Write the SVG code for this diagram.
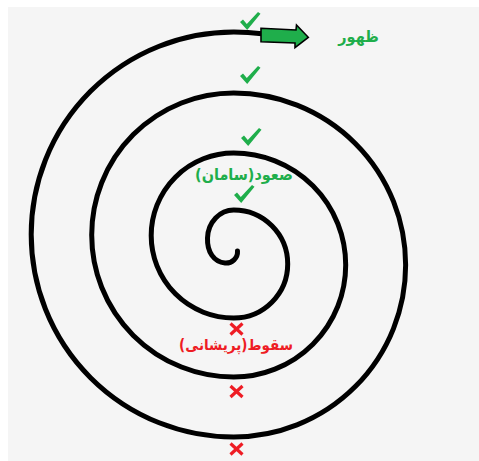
<svg xmlns="http://www.w3.org/2000/svg" width="479" height="461" viewBox="0 0 479 461">
<style>
.spiral{fill:none;stroke:#000;stroke-width:5;stroke-linecap:round;stroke-linejoin:round}
.tick{fill:#1fae4b}
.cross{stroke:#ee1c24;stroke-width:3.2;stroke-linecap:butt}
.lbl{font-family:"DejaVu Sans Condensed","DejaVu Sans",sans-serif;font-weight:bold;text-anchor:middle}
.green{fill:#1fae4b}
.red{fill:#ee1c24}
</style>
<defs>
<path id="tk" d="M0,10 L3,7.5 L6.8,12 L18,0 L20.5,1.8 L7.2,18 Z"/>
<g id="x"><line x1="-6" y1="-5.5" x2="6" y2="5.5"/><line x1="-6" y1="5.5" x2="6" y2="-5.5"/></g>
</defs>
<rect x="8" y="7" width="471" height="454" fill="#f5f5f5"/>
<g id="spiral">
<path class="spiral" d="M237.5 251 C238 258 232 263.5 225 263 C214 262 207 252 207.5 238 C208 222 220 210 233.7 210 A54 54 0 0 1 233.7 318 A82.5 82.5 0 0 1 233.7 153 A112 112 0 0 1 233.7 377 A142 142 0 0 1 233.7 93 A172 172 0 0 1 233.7 437 A202.5 202.5 0 0 1 233.7 32 A232 232 0 0 1 262 33.7"/>
</g>
<g id="arrow">
<path d="M261 28.3 L296 30 L296.5 25 L308.3 37.3 L295 47.7 L295 43 L261 41.7 Z" fill="#1fae4b" stroke="#000" stroke-width="1.6" stroke-linejoin="miter"/>
</g>
<g id="ticks" class="tick">
<use href="#tk" transform="translate(240,12)"/>
<use href="#tk" transform="translate(240,66)"/>
<use href="#tk" transform="translate(241,128)"/>
<use href="#tk" transform="translate(234,185)"/>
</g>
<g id="crosses" class="cross">
<use href="#x" transform="translate(236.5,329)"/>
<use href="#x" transform="translate(236.5,391.5)"/>
<use href="#x" transform="translate(236.5,449)"/>
</g>
<g id="label-zohur"><text class="lbl green" x="358.5" y="42" font-size="16" direction="rtl">ظهور</text></g>
<g id="label-soud"><text class="lbl green" x="244" y="180" font-size="16" direction="rtl">صعود(سامان)</text></g>
<g id="label-soghut"><text class="lbl red" x="236" y="350" font-size="15" direction="rtl">سقوط(پریشانی)</text></g>
</svg>
